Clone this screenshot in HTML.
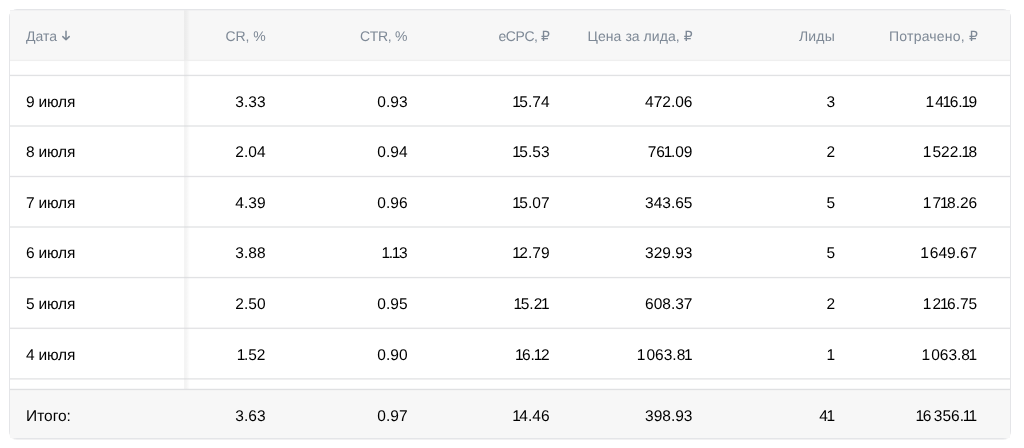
<!DOCTYPE html>
<html lang="ru">
<head>
<meta charset="utf-8">
<title>Статистика</title>
<style>
  html, body { margin: 0; padding: 0; background: #fff; }
  body { width: 1024px; height: 448px; overflow: hidden; position: relative;
    font-family: "Liberation Sans", "DejaVu Sans", sans-serif; color: #000; text-rendering: geometricPrecision; }
  .wrap { position: absolute; left: 9px; top: 9px; width: 1000px; height: 428px;
    border: 1px solid #e4e5e8; border-radius: 8px; background: #fff;
    box-shadow: 0 1px 0 rgba(215,216,219,0.35); }
  .row { position: absolute; left: 0; width: 1000px; box-sizing: border-box; }
  .row .c { position: absolute; top: 0; bottom: 0; display: flex; align-items: center;
    justify-content: flex-end; white-space: nowrap; }
  .row .c0 { left: 16px; justify-content: flex-start; }
  .head { top: 0; height: 51px; background: #f7f7f7;
    font-size: 14px; color: #7e8996; }
  .head .c { padding-top: 1.8px; }
  .spacer { background: #fff; }
  .body { font-size: 15.5px; }
  .body .c { padding-top: 4px; }
  .body .c0 { letter-spacing: -0.2px; }
  .foot { top: 379px; height: 49px; background: #f7f7f7; font-size: 15.5px; }
  .lines { position: absolute; left: 0; top: 0; }
  .foot .c { padding-top: 7px; }
  .c i { font-style: normal; margin: 0 -1.5px 0 -1.2px; }
  .c i.t { margin: 0 0 0 -1.4px; }
  .sp { display: inline-block; width: 2.5px; }
  .sticky { position: absolute; left: 174px; top: 0; width: 6px; height: 379px;
    background: linear-gradient(to right, rgba(0,0,0,0.045) 0, rgba(0,0,0,0.045) 2px, rgba(0,0,0,0) 100%); }
  .arrow { position: absolute; left: 51px; top: 20px; }
  .head .r1 { right: 744.5px; }
  .head .r2 { right: 602.8px; }
  .head .r3 { right: 460.4px; }
  .head .r4 { right: 317.4px; }
  .head .r5 { right: 175px; }
  .head .r6 { right: 32px; }
  .body .r1, .foot .r1 { right: 744.5px; }
  .body .r2, .foot .r2 { right: 602.5px; }
  .body .r3, .foot .r3 { right: 460.5px; }
  .body .r4, .foot .r4 { right: 317.5px; }
  .body .r5, .foot .r5 { right: 175px; }
  .body .r6, .foot .r6 { right: 32.8px; }
  .head .r5 { letter-spacing: .2px; }
  .head .r4 { letter-spacing: .05px; }
  .head .r6 { letter-spacing: .2px; }
  .head .r2 { letter-spacing: -.3px; }
  .head .r3 { letter-spacing: -.4px; }
  .head .r1 { letter-spacing: -.1px; }
</style>
</head>
<body>
<div class="wrap">
  <div class="row head">
    <div class="c c0">Дата</div>
    <svg class="arrow" width="10" height="12" viewBox="0 0 10 12"><path d="M5 1.2V9.8M1.8 6.6 5 9.8 8.2 6.6" fill="none" stroke="#7e8996" stroke-width="1.5" stroke-linecap="round" stroke-linejoin="round"/></svg>
    <div class="c r1">CR, %</div>
    <div class="c r2">CTR, %</div>
    <div class="c r3">eCPC, ₽</div>
    <div class="c r4">Цена за лида, ₽</div>
    <div class="c r5">Лиды</div>
    <div class="c r6">Потрачено, ₽</div>
  </div>
  <div class="row spacer" style="top:51px;height:14px"></div>
  <div class="row body" style="top:65px;height:51px"><div class="c c0">9 июля</div><div class="c r1">3.33</div><div class="c r2">0.93</div><div class="c r3"><i>1</i>5.74</div><div class="c r4">472.06</div><div class="c r5">3</div><div class="c r6"><i>1</i><span class="sp"></span>4<i>1</i>6.<i>1</i>9</div></div>
  <div class="row body" style="top:115.65px;height:51px"><div class="c c0">8 июля</div><div class="c r1">2.04</div><div class="c r2">0.94</div><div class="c r3"><i>1</i>5.53</div><div class="c r4">76<i>1</i>.09</div><div class="c r5">2</div><div class="c r6"><i>1</i><span class="sp"></span>522.<i>1</i>8</div></div>
  <div class="row body" style="top:166.3px;height:51px"><div class="c c0">7 июля</div><div class="c r1">4.39</div><div class="c r2">0.96</div><div class="c r3"><i>1</i>5.07</div><div class="c r4">343.65</div><div class="c r5">5</div><div class="c r6"><i>1</i><span class="sp"></span>7<i>1</i>8.26</div></div>
  <div class="row body" style="top:216.95px;height:51px"><div class="c c0">6 июля</div><div class="c r1">3.88</div><div class="c r2"><i>1</i>.<i>1</i>3</div><div class="c r3"><i>1</i>2.79</div><div class="c r4">329.93</div><div class="c r5">5</div><div class="c r6"><i>1</i><span class="sp"></span>649.67</div></div>
  <div class="row body" style="top:267.6px;height:51px"><div class="c c0">5 июля</div><div class="c r1">2.50</div><div class="c r2">0.95</div><div class="c r3"><i>1</i>5.2<i class="t">1</i></div><div class="c r4">608.37</div><div class="c r5">2</div><div class="c r6"><i>1</i><span class="sp"></span>2<i>1</i>6.75</div></div>
  <div class="row body" style="top:318.25px;height:51px"><div class="c c0">4 июля</div><div class="c r1"><i>1</i>.52</div><div class="c r2">0.90</div><div class="c r3"><i>1</i>6.<i>1</i>2</div><div class="c r4"><i>1</i><span class="sp"></span>063.8<i class="t">1</i></div><div class="c r5">1</div><div class="c r6"><i>1</i><span class="sp"></span>063.8<i class="t">1</i></div></div>

  <div class="sticky"></div>

  <div class="row foot"><div class="c c0">Итого:</div><div class="c r1">3.63</div><div class="c r2">0.97</div><div class="c r3"><i>1</i>4.46</div><div class="c r4">398.93</div><div class="c r5">4<i class="t">1</i></div><div class="c r6"><i>1</i>6<span class="sp"></span>356.<i>1</i><i class="t">1</i></div></div>
  <svg class="lines" width="1000" height="428" viewBox="0 0 1000 428"><rect x="0" y="-1" width="1000" height="1" fill="#eaebed" fill-opacity="0.494"/><rect x="0" y="0" width="1000" height="1" fill="#eaebed" fill-opacity="0.494"/><rect x="0" y="49" width="1000" height="1" fill="#ececec" fill-opacity="0.176"/><rect x="0" y="50" width="1000" height="1" fill="#ececec" fill-opacity="0.748"/><rect x="0" y="51" width="1000" height="1" fill="#ececec" fill-opacity="0.076"/><rect x="0" y="64" width="1000" height="1" fill="#d7d8db" fill-opacity="0.176"/><rect x="0" y="65" width="1000" height="1" fill="#d7d8db" fill-opacity="0.748"/><rect x="0" y="66" width="1000" height="1" fill="#d7d8db" fill-opacity="0.076"/><rect x="0" y="115" width="1000" height="1" fill="#d7d8db" fill-opacity="0.494"/><rect x="0" y="116" width="1000" height="1" fill="#d7d8db" fill-opacity="0.494"/><rect x="0" y="165" width="1000" height="1" fill="#d7d8db" fill-opacity="0.12"/><rect x="0" y="166" width="1000" height="1" fill="#d7d8db" fill-opacity="0.761"/><rect x="0" y="167" width="1000" height="1" fill="#d7d8db" fill-opacity="0.12"/><rect x="0" y="216" width="1000" height="1" fill="#d7d8db" fill-opacity="0.494"/><rect x="0" y="217" width="1000" height="1" fill="#d7d8db" fill-opacity="0.494"/><rect x="0" y="266" width="1000" height="1" fill="#d7d8db" fill-opacity="0.076"/><rect x="0" y="267" width="1000" height="1" fill="#d7d8db" fill-opacity="0.748"/><rect x="0" y="268" width="1000" height="1" fill="#d7d8db" fill-opacity="0.176"/><rect x="0" y="317" width="1000" height="1" fill="#d7d8db" fill-opacity="0.283"/><rect x="0" y="318" width="1000" height="1" fill="#d7d8db" fill-opacity="0.683"/><rect x="0" y="319" width="1000" height="1" fill="#d7d8db" fill-opacity="0.034"/><rect x="0" y="368" width="1000" height="1" fill="#d7d8db" fill-opacity="0.577"/><rect x="0" y="369" width="1000" height="1" fill="#d7d8db" fill-opacity="0.408"/><rect x="0" y="378" width="1000" height="1" fill="#d7d8db" fill-opacity="0.176"/><rect x="0" y="379" width="1000" height="1" fill="#d7d8db" fill-opacity="0.748"/><rect x="0" y="380" width="1000" height="1" fill="#d7d8db" fill-opacity="0.076"/></svg>
</div>
</body>
</html>
